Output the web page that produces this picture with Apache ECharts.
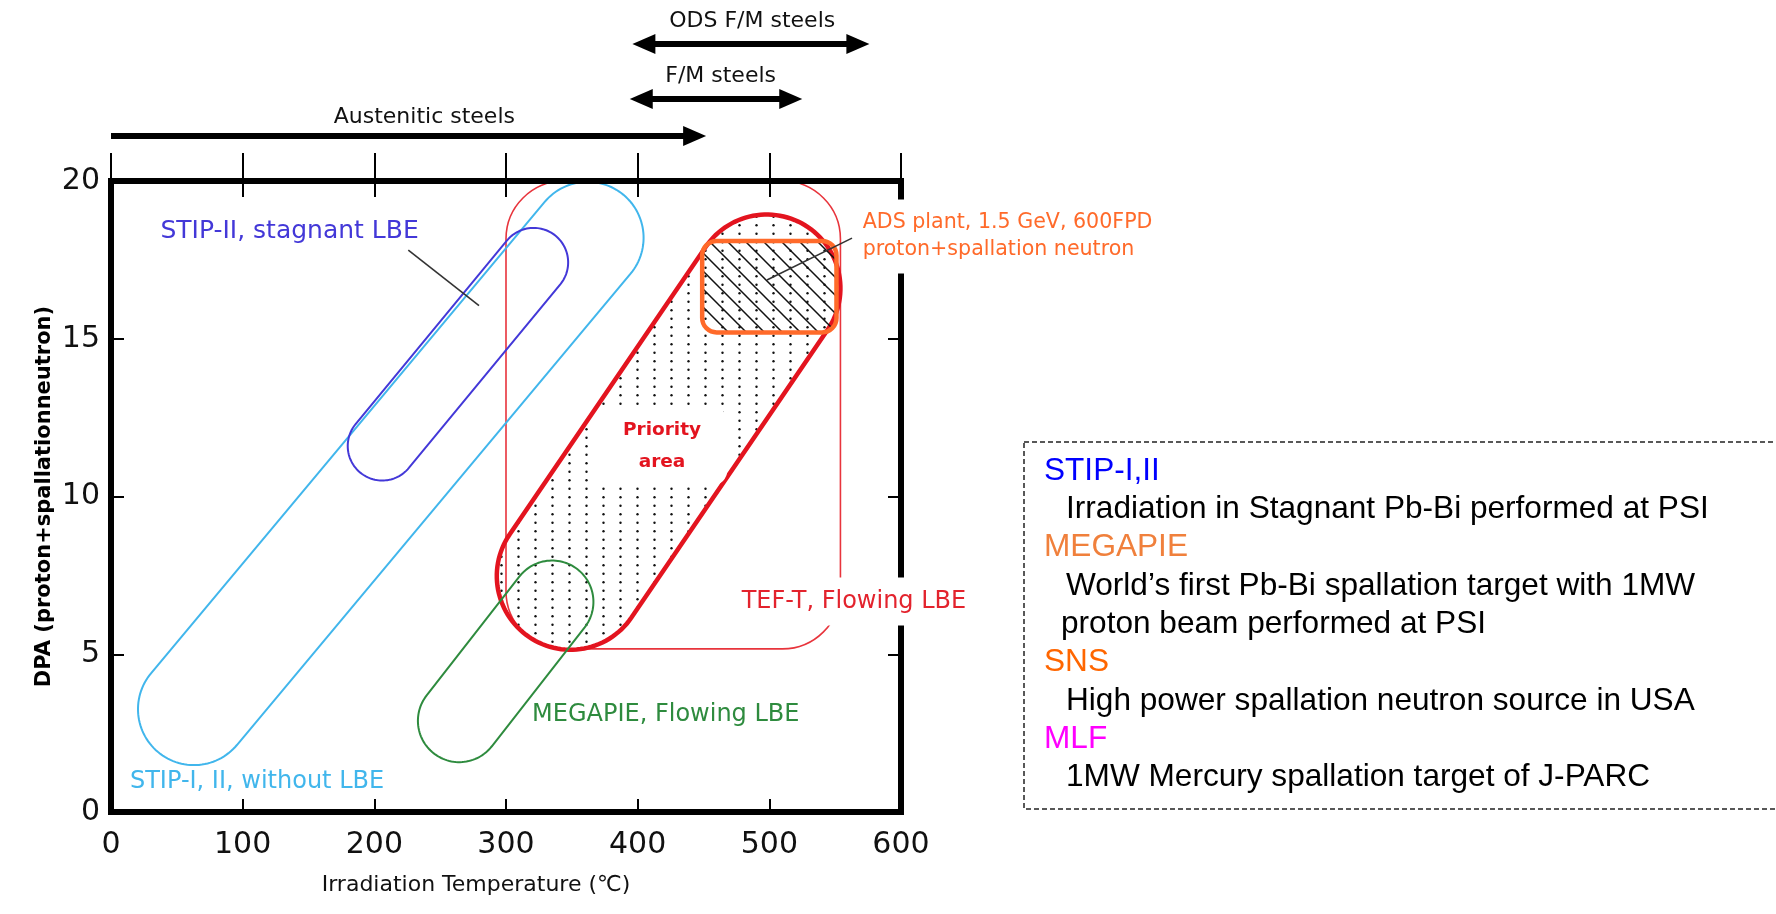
<!DOCTYPE html>
<html><head><meta charset="utf-8">
<script src="https://cdn.jsdelivr.net/npm/echarts@6/dist/echarts.min.js"></script>
<style>html,body{margin:0;padding:0;background:#fff;}#chart{width:1776px;height:914px;}</style>
</head><body><div id="chart"></div>
<script>
// ---------------- data ----------------
const xTicks = [0, 100, 200, 300, 400, 500, 600];
const yTicks = [0, 5, 10, 15, 20];
// capsule regions: [low T(°C), low DPA, high T(°C), high DPA, half-width (°C)]
const stipNoLBE    = [63, 3.26, 362, 18.2, 42.5];
const stipStagnant = [206, 11.6, 321, 17.42, 26.2];
const megapieFlow  = [264.5, 2.89, 335, 6.66, 31.4];
const priorityArea = [349, 7.48, 498, 16.6, 56];
// rounded ranges: [T min, T max, DPA min, DPA max, corner (°C)]
const teftRange = [300, 554, 5.17, 20, 44];
const adsRange  = [449, 551, 15.2, 18.1, 11];
// steel application temperature ranges (°C)
const steelNames   = ['ODS F/M steels', 'F/M steels', 'Austenitic steels'];
const steelFrom    = [396, 394, 0];
const steelTo      = [576, 525, 452];
const steelLabelAt = [487, 463, 238];
// annotation texts with anchor [T, DPA]
const noteTexts = ['STIP-II, stagnant LBE', 'STIP-I, II, without LBE', 'MEGAPIE, Flowing LBE',
                   'TEF-T, Flowing LBE', 'ADS plant, 1.5 GeV, 600FPD\nproton+spallation neutron', 'Priority\narea'];
const noteT   = [37.5, 14.4, 319.8, 479, 570.9, 418.5];
const noteDPA = [18.39, 0.95, 3.07, 6.67, 18.24, 11.6];
// leader lines [T1, DPA1, T2, DPA2]
const leaderStip = [225.8, 17.81, 279.5, 16.05];
const leaderAds  = [562.8, 18.19, 498.2, 16.86];
// legend
const legendHeads = ['STIP-I,II', 'MEGAPIE', 'SNS', 'MLF'];
const legendNotes = [['Irradiation in Stagnant Pb-Bi performed at PSI'],
                     ['World\u2019s first Pb-Bi spallation target with 1MW', 'proton beam performed at PSI'],
                     ['High power spallation neutron source in USA'],
                     ['1MW Mercury spallation target of J-PARC']];

// ---------------- styles ----------------
const C_BLUE = '#41b6ec', C_PURPLE = '#4338d8', C_GREEN = '#2e8b3e', C_RED = '#e3141f',
      C_RED_THIN = '#e8343c', C_ORANGE = '#ff6a2a';
const PLOT_FONT = '"DejaVu Sans", "Open Sans", sans-serif';
const LEG_FONT = '"Liberation Sans", Arial, sans-serif';

function makeDots() {
  const c = document.createElement('canvas'); c.width = 17; c.height = 17;
  const g = c.getContext('2d'); g.fillStyle = '#111';
  [[8.5, 4.25], [8.5, 12.75]].forEach(p => { g.beginPath(); g.arc(p[0], p[1], 1.2, 0, Math.PI * 2); g.fill(); });
  return c;
}
function makeHatch() {
  const c = document.createElement('canvas'); c.width = 18; c.height = 18;
  const g = c.getContext('2d'); g.strokeStyle = '#111'; g.lineWidth = 1.5;
  g.beginPath(); g.moveTo(-2, -2); g.lineTo(20, 20); g.moveTo(-2, 16); g.lineTo(2, 20);
  g.moveTo(16, -2); g.lineTo(20, 2); g.stroke();
  return c;
}
const dotPattern = { image: makeDots(), repeat: 'repeat' };
const hatchPattern = { image: makeHatch(), repeat: 'repeat' };

function capsulePts(api, cap) {
  const p1 = api.coord([cap[0], cap[1]]), p2 = api.coord([cap[2], cap[3]]);
  const r = api.size([cap[4], 0])[0];
  const dx = p2[0] - p1[0], dy = p2[1] - p1[1], L = Math.hypot(dx, dy);
  const nx = -dy / L, ny = dx / L, a0 = Math.atan2(ny, nx), N = 60, pts = [];
  for (let i = 0; i <= N; i++) { const a = a0 - Math.PI * i / N; pts.push([p2[0] + r * Math.cos(a), p2[1] + r * Math.sin(a)]); }
  for (let i = 0; i <= N; i++) { const a = a0 - Math.PI - Math.PI * i / N; pts.push([p1[0] + r * Math.cos(a), p1[1] + r * Math.sin(a)]); }
  return pts;
}
function capsule(api, cap, style) {
  return { type: 'polygon', shape: { points: capsulePts(api, cap) }, style: style };
}
function rrect(api, rg, style) {
  const a = api.coord([rg[0], rg[3]]), b = api.coord([rg[1], rg[2]]);
  return { type: 'rect', shape: { x: a[0], y: a[1], width: b[0] - a[0], height: b[1] - a[1], r: api.size([rg[4], 0])[0] }, style: style };
}
function leader(api, ln) {
  const a = api.coord([ln[0], ln[1]]), b = api.coord([ln[2], ln[3]]);
  return { type: 'line', shape: { x1: a[0], y1: a[1], x2: b[0], y2: b[1] }, style: { stroke: '#333', lineWidth: 1.6 } };
}

function renderShapes(params, api) {
  const ch = [];
  ch.push(rrect(api, teftRange, { fill: 'none', stroke: C_RED_THIN, lineWidth: 1.6 }));
  ch.push(capsule(api, stipNoLBE, { fill: 'none', stroke: C_BLUE, lineWidth: 2 }));
  ch.push(capsule(api, stipStagnant, { fill: 'none', stroke: C_PURPLE, lineWidth: 2 }));
  ch.push(capsule(api, priorityArea, { fill: dotPattern, stroke: 'none' }));
  ch.push(capsule(api, priorityArea, { fill: 'none', stroke: C_RED, lineWidth: 4.5 }));
  ch.push(rrect(api, adsRange, { fill: hatchPattern, stroke: C_ORANGE, lineWidth: 4.5 }));
  ch.push(capsule(api, megapieFlow, { fill: 'none', stroke: C_GREEN, lineWidth: 2 }));
  return { type: 'group', children: ch };
}

function arrow(x1, x2, y, dbl) {
  const hl = 23, hw = 10, els = [];
  els.push({ type: 'line', shape: { x1: dbl ? x1 + hl - 2 : x1, y1: y, x2: x2 - hl + 2, y2: y }, style: { stroke: '#000', lineWidth: 6 } });
  els.push({ type: 'polygon', shape: { points: [[x2, y], [x2 - hl, y - hw], [x2 - hl, y + hw]] }, style: { fill: '#000' } });
  if (dbl) els.push({ type: 'polygon', shape: { points: [[x1, y], [x1 + hl, y - hw], [x1 + hl, y + hw]] }, style: { fill: '#000' } });
  return els;
}

function renderNotes(params, api) {
  const cs = params.coordSys, ch = [];
  ch.push(leader(api, leaderStip));
  ch.push(leader(api, leaderAds));
  const colors = [C_PURPLE, C_BLUE, C_GREEN, '#e3232d', C_ORANGE, '#e3141f'];
  const sizes = [25, 24, 24, 24, 20.6, 18.5];
  const weights = ['normal', 'normal', 'normal', 'normal', 'normal', 'bold'];
  const lh = [28, 28, 28, 28, 27, 32];
  const pads = [[0, 0], [0, 0], [0, 0], [10, 6], [10, 8], [7, 26]];
  const bgs = [null, null, null, '#fff', '#fff', '#fff'];
  for (let i = 0; i < noteTexts.length; i++) {
    const p = api.coord([noteT[i], noteDPA[i]]);
    const center = (i === 5);
    ch.push({
      type: 'text',
      style: {
        text: noteTexts[i], x: center ? p[0] : p[0] - pads[i][1], y: p[1],
        fill: colors[i], fontSize: sizes[i], fontWeight: weights[i], fontFamily: PLOT_FONT, lineHeight: lh[i],
        align: center ? 'center' : 'left', verticalAlign: 'middle',
        backgroundColor: bgs[i] || 'transparent', padding: pads[i], borderRadius: center ? 14 : 0
      }
    });
  }
  const arrowOff = [137, 82, 45], textOff = [160, 105, 64];
  for (let i = 0; i < steelNames.length; i++) {
    const x1 = api.coord([steelFrom[i], 0])[0], x2 = api.coord([steelTo[i], 0])[0];
    arrow(x1, x2, cs.y - arrowOff[i], i < 2).forEach(e => ch.push(e));
    ch.push({ type: 'text', style: { text: steelNames[i], x: api.coord([steelLabelAt[i], 0])[0], y: cs.y - textOff[i],
      fill: '#111', fontSize: 22, fontFamily: PLOT_FONT, align: 'center', verticalAlign: 'middle' } });
  }
  return { type: 'group', children: ch };
}

// legend graphic
const legendEls = [{ type: 'rect', shape: { x: 1024, y: 442, width: 800, height: 367 },
  style: { fill: 'none', stroke: '#222', lineWidth: 1.5, lineDash: [5, 3] } }];
const headColors = ['#0000ff', '#f0803c', '#ff6600', '#ff00ff'];
let row = 0;
legendHeads.forEach((h, i) => {
  legendEls.push({ type: 'text', x: 1044, y: 471 + 38.3 * row, style: { text: h, fill: headColors[i], fontSize: 31.6, fontFamily: LEG_FONT, verticalAlign: 'middle' } });
  row++;
  legendNotes[i].forEach((t, j) => {
    legendEls.push({ type: 'text', x: j === 0 ? 1066 : 1061, y: 471 + 38.3 * row, style: { text: t, fill: '#000', fontSize: 31.6, fontFamily: LEG_FONT, verticalAlign: 'middle' } });
    row++;
  });
});

const axisLineStyle = { color: '#000', width: 6, cap: 'square' };
const tickStyle = { color: '#000', width: 2 };
const option = {
  animation: false,
  backgroundColor: '#fff',
  grid: { left: 111, right: 875, top: 181, bottom: 102 },
  xAxis: [
    { type: 'value', min: xTicks[0], max: xTicks[xTicks.length - 1], interval: 100, position: 'bottom',
      axisLine: { show: true, onZero: false, lineStyle: axisLineStyle },
      axisTick: { show: true, inside: true, length: 13, lineStyle: tickStyle },
      axisLabel: { fontFamily: PLOT_FONT, fontSize: 30, color: '#111', margin: 18 },
      splitLine: { show: false },
      name: 'Irradiation Temperature (\u2103)', nameLocation: 'middle', nameGap: 62,
      nameTextStyle: { fontFamily: PLOT_FONT, fontSize: 22, color: '#111', padding: [0, 60, 0, 0] } },
    { type: 'value', min: 0, max: 600, interval: 100, position: 'top',
      axisLine: { show: true, onZero: false, lineStyle: axisLineStyle },
      axisTick: { show: true, inside: false, length: 28, lineStyle: tickStyle },
      axisLabel: { show: false }, splitLine: { show: false } },
    { type: 'value', min: 0, max: 600, interval: 100, position: 'top',
      axisLine: { show: false, onZero: false },
      axisTick: { show: true, inside: true, length: 16, lineStyle: tickStyle },
      axisLabel: { show: false }, splitLine: { show: false } }
  ],
  yAxis: [
    { type: 'value', min: yTicks[0], max: yTicks[yTicks.length - 1], interval: 5, position: 'left',
      axisLine: { show: true, onZero: false, lineStyle: axisLineStyle },
      axisTick: { show: true, inside: true, length: 13, lineStyle: tickStyle },
      axisLabel: { fontFamily: PLOT_FONT, fontSize: 30, color: '#111', margin: 11 },
      splitLine: { show: false },
      name: 'DPA (proton+spallationneutron)', nameLocation: 'middle', nameGap: 56, nameRotate: 90,
      nameTextStyle: { fontFamily: PLOT_FONT, fontSize: 21, fontWeight: 'bold', color: '#000' } },
    { type: 'value', min: 0, max: 20, interval: 5, position: 'right',
      axisLine: { show: true, onZero: false, lineStyle: axisLineStyle },
      axisTick: { show: true, inside: true, length: 13, lineStyle: tickStyle },
      axisLabel: { show: false }, splitLine: { show: false } }
  ],
  series: [
    { type: 'custom', z: -1, xAxisIndex: 0, yAxisIndex: 0, clip: false, silent: true,
      data: [[0, 0]], renderItem: renderShapes },
    { type: 'custom', z: 10, xAxisIndex: 0, yAxisIndex: 0, clip: false, silent: true,
      data: [[0, 0]], renderItem: renderNotes }
  ],
  graphic: legendEls
};
const chart = echarts.init(document.getElementById('chart'));
chart.setOption(option);
</script></body></html>
